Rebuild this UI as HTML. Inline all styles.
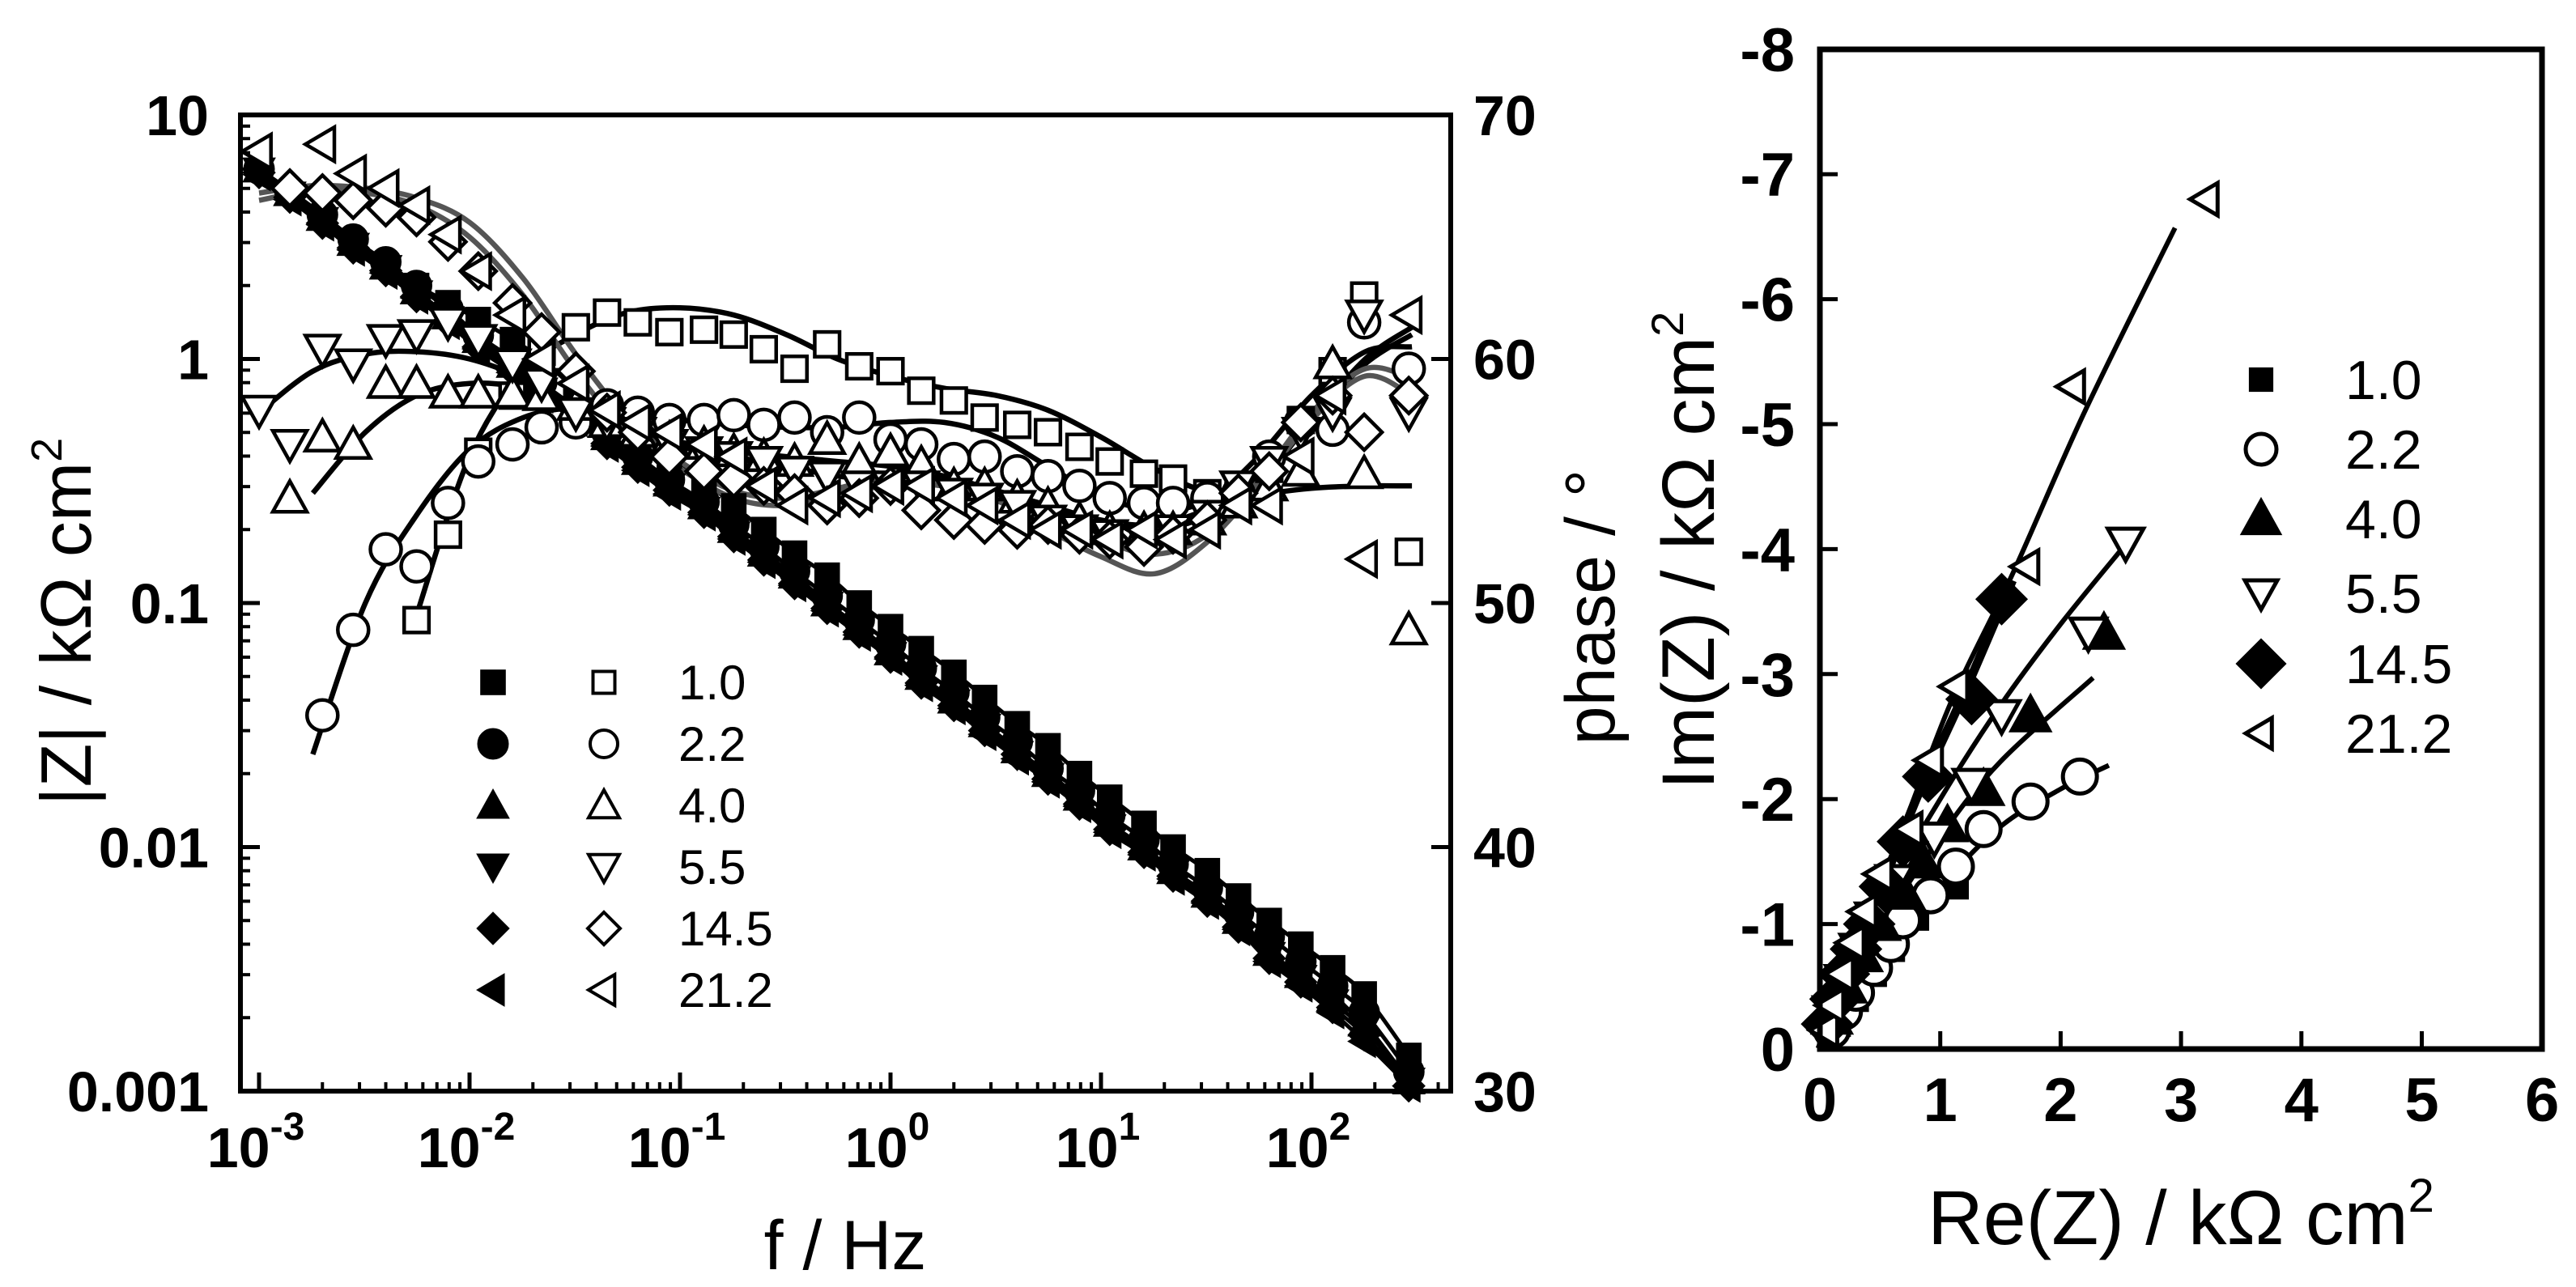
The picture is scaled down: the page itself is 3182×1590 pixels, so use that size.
<!DOCTYPE html>
<html><head><meta charset="utf-8"><title>Impedance chart</title>
<style>html,body{margin:0;padding:0;background:#fff}svg{display:block}text{font-family:"Liberation Sans",Arial,sans-serif}</style>
</head><body>
<svg id="chart" xmlns="http://www.w3.org/2000/svg" width="3182" height="1590" viewBox="0 0 3182 1590">
<rect x="0" y="0" width="3182" height="1590" fill="#fff"/>
<g id="bode"></g>
<g id="nyq"></g>
</svg>
<script>
// ---------- Bode data ----------
var freq = [0.001,0.0014,0.002,0.0028,0.004,0.0056,0.0079,0.011,0.016,0.022,0.032,0.045,0.063,0.089,0.13,0.18,0.25,0.35,0.5,0.71,1.0,1.4,2.0,2.8,4.0,5.6,7.9,11,16,22,32,45,63,89,126,178,290];
var seriesNames = ["1.0","2.2","4.0","5.5","14.5","21.2"];
var zA = [null,null,null,null,null,2.0,1.7,1.45,1.2,1.0,0.75,0.6,0.48,0.4,0.32,0.25,0.2,0.16,0.13,0.1,0.08,0.065,0.052,0.041,0.032,0.026,0.02,0.016,0.0125,0.01,0.008,0.0063,0.005,0.004,0.0032,0.0025,0.0014];
var zB = [6.0,4.9,3.9,3.1,2.5,2.0,1.6,1.25,1.0,0.8,0.63,0.5,0.4,0.32,0.26,0.21,0.17,0.135,0.107,0.085,0.068,0.054,0.043,0.034,0.027,0.021,0.017,0.0135,0.0107,0.0085,0.0068,0.0054,0.0043,0.0034,0.0027,0.0021,0.0012];
var zC = [6.0,4.8,3.8,3.0,2.4,1.9,1.5,1.2,0.95,0.76,0.6,0.48,0.38,0.31,0.25,0.2,0.16,0.13,0.1,0.08,0.063,0.05,0.04,0.032,0.025,0.02,0.016,0.0125,0.01,0.008,0.0064,0.005,0.0037,0.003,0.0024,0.0019,0.0011];
var zD = [5.9,4.7,3.7,2.9,2.35,1.85,1.45,1.15,0.92,0.74,0.58,0.46,0.37,0.3,0.24,0.19,0.155,0.125,0.098,0.078,0.061,0.049,0.039,0.031,0.024,0.0195,0.0155,0.012,0.0097,0.0078,0.0062,0.0049,0.0036,0.0029,0.0023,0.0018,0.0011];
var zE = [5.8,4.6,3.6,2.85,2.3,1.8,1.42,1.12,0.9,0.72,0.57,0.45,0.36,0.29,0.235,0.187,0.15,0.12,0.095,0.076,0.06,0.047,0.038,0.03,0.024,0.019,0.015,0.0118,0.0095,0.0076,0.006,0.0047,0.0035,0.0028,0.0022,0.0017,0.00105];
var zF = [5.7,4.5,3.55,2.8,2.25,1.78,1.4,1.1,0.88,0.7,0.56,0.44,0.35,0.28,0.23,0.183,0.147,0.118,0.093,0.074,0.059,0.046,0.037,0.029,0.023,0.0185,0.0147,0.0115,0.0093,0.0074,0.0059,0.0046,0.0034,0.0027,0.0021,0.0016,0.00105];
var pA = [null,null,null,null,null,49.3,52.8,56.2,58.5,60.3,61.3,61.9,61.5,61.1,61.2,61.0,60.4,59.6,60.6,59.7,59.5,58.7,58.3,57.6,57.3,57.0,56.4,55.8,55.3,55.1,54.5,54.4,55.5,57.5,59.5,62.6,52.1];
var pB = [null,null,45.4,48.9,52.2,51.5,54.1,55.8,56.5,57.2,57.4,58.1,57.8,57.5,57.5,57.7,57.3,57.6,57.0,57.6,56.7,56.5,55.9,56.0,55.4,55.2,54.8,54.3,54.1,54.1,54.3,54.5,56.0,57.4,57.1,61.5,59.6];
var pC = [null,54.3,56.8,56.5,59.0,59.0,58.6,58.6,58.6,58.5,58.1,57.4,57.0,56.7,56.5,56.2,56.0,55.8,56.7,55.8,56.2,55.7,54.8,54.8,54.3,54.0,53.4,53.0,53.0,53.0,53.4,54.1,54.8,55.4,59.8,55.3,48.9];
var pD = [57.9,56.5,60.4,59.8,60.8,61.0,61.5,60.8,59.8,59.0,57.8,57.4,57.0,56.5,56.2,56.0,55.8,55.4,55.2,54.8,54.8,54.8,54.5,54.3,54.0,53.4,53.0,52.8,52.6,53.0,53.6,54.8,55.8,57.0,57.8,61.8,57.8];
var pE = [null,67.0,66.8,66.5,66.2,65.8,64.8,63.6,62.3,61.1,59.5,57.8,57.0,56.0,55.4,55.1,54.8,54.5,54.0,54.3,54.8,53.8,53.4,53.2,53.0,53.2,52.8,52.6,52.3,52.8,53.4,54.5,55.4,57.4,58.5,57.0,58.5];
var pF = [68.5,null,68.8,67.6,67.0,66.3,65.1,63.6,61.8,60.0,59.0,57.9,57.4,57.0,56.5,56.0,54.8,54.0,54.3,54.5,54.8,54.8,54.3,54.0,53.4,53.0,53.0,52.6,53.0,52.6,53.0,54.0,54.0,56.0,58.5,51.8,61.8];
var fitFreq = [0.001,0.0018,0.0032,0.0056,0.01,0.018,0.032,0.056,0.1,0.18,0.32,0.56,1,1.8,3.2,5.6,10,18,32,56,100,180,300];
var fA = [null,null,null,49.5,56.0,59.5,61.0,61.9,62.1,61.8,61.0,60.0,59.3,58.8,58.5,57.9,56.8,55.5,54.6,55.0,57.5,60.0,61.3];
var fB = [null,43.8,50.0,53.6,56.3,57.6,58.0,57.8,57.5,57.3,57.2,57.2,57.4,57.4,56.8,55.6,54.4,53.8,54.2,56.0,58.5,60.3,60.5];
var fC = [null,54.5,57.0,58.5,59.0,58.8,58.0,57.2,56.6,56.2,56.0,55.8,55.6,55.2,54.6,54.0,53.4,53.2,53.8,54.4,54.7,54.8,54.8];
var fD = [57.8,59.5,60.2,60.3,60.0,59.2,58.0,57.0,56.4,56.0,55.6,55.2,55.0,54.8,54.5,53.9,53.3,53.0,53.6,55.2,57.5,59.8,61.0];
var fE = [66.5,66.9,66.8,66.3,65.0,62.6,59.5,57.0,55.5,54.3,54.0,54.5,54.8,54.8,54.2,53.0,51.9,51.2,52.5,54.8,57.5,59.3,58.5];
var fF = [66.8,67.1,67.0,66.6,65.6,63.3,60.2,57.6,55.8,54.6,54.3,54.7,55.2,55.0,54.5,53.6,52.6,52.0,52.8,55.0,57.8,59.6,59.2];
var xTickExp = [-3,-2,-1,0,1,2];
var yTickLabels = ["10","1","0.1","0.01","0.001"];
var yTickVals = [10,1,0.1,0.01,0.001];
var phaseTicks = [70,60,50,40,30];
// ---------- Nyquist data ----------
var reA = [0.15,0.3,0.45,0.6,0.8,1.13];
var imA = [-0.2,-0.4,-0.6,-0.8,-1.05,-1.3];
var reB = [0.1,0.2,0.3,0.45,0.59,0.69,0.92,1.13,1.36,1.75,2.16];
var imB = [-0.15,-0.3,-0.45,-0.65,-0.84,-1.03,-1.23,-1.46,-1.76,-1.98,-2.18];
var reC = [0.1,0.22,0.35,0.5,0.7,0.85,1.06,1.36,1.75,2.36];
var imC = [-0.25,-0.5,-0.75,-1.0,-1.25,-1.5,-1.79,-2.08,-2.67,-3.33];
var reD = [0.1,0.2,0.32,0.45,0.62,0.95,1.26,1.51,2.23,2.54];
var imD = [-0.3,-0.55,-0.8,-1.05,-1.35,-1.69,-2.12,-2.67,-3.33,-4.05];
var reE = [0.06,0.13,0.2,0.3,0.41,0.54,0.69,0.9,1.26,1.51];
var imE = [-0.2,-0.4,-0.6,-0.8,-1.0,-1.3,-1.66,-2.18,-2.8,-3.6];
var reF = [0.05,0.1,0.18,0.27,0.37,0.5,0.75,0.92,1.13,1.72,2.1,3.21];
var imF = [-0.15,-0.35,-0.6,-0.85,-1.1,-1.4,-1.76,-2.31,-2.9,-3.86,-5.3,-6.8];
var fitReB = [0.1,0.5,1,1.5,2,2.4];
var fitImB = [0,-0.75,-1.3,-1.78,-2.08,-2.27];
var fitReC = [0,0.5,1,1.5,2.27];
var fitImC = [0,-0.95,-1.7,-2.3,-2.97];
var fitReD = [0,0.5,1,1.5,2,2.55];
var fitImD = [0,-1.15,-2.0,-2.75,-3.4,-4.05];
var fitReE = [0,0.4,0.8,1.2,1.6];
var fitImE = [0,-1.0,-2.0,-2.85,-3.75];
var fitReF = [0,0.3,0.7,1.1,1.6,2.2,2.95];
var fitImF = [0,-0.85,-1.8,-2.8,-3.8,-5.1,-6.57];
var nxTicks = [0,1,2,3,4,5,6];
var nyTicks = [0,-1,-2,-3,-4,-5,-6,-7,-8];

var NS = "http://www.w3.org/2000/svg";
function mk(parent, tag, attrs) {
  var e = document.createElementNS(NS, tag);
  for (var k in attrs) e.setAttribute(k, attrs[k]);
  parent.appendChild(e);
  return e;
}
var L = {x0: 297, x1: 1792, y0: 142, y1: 1348};
function xL(f) { return 320 + (Math.log10(f) + 3) * 260; }
function yL(z) { return L.y0 + (1 - Math.log10(z)) * 301.5; }
function yP(p) { return L.y0 + (70 - p) / 40 * (L.y1 - L.y0); }
var R = {x0: 2248, x1: 3140, y0: 61, y1: 1296};
function xN(re) { return R.x0 + re * 148.7; }
function yN(im) { return R.y1 + im * 154.4; }

function smoothPath(pts) {
  if (pts.length < 2) return "";
  var d = "M" + pts[0][0].toFixed(1) + "," + pts[0][1].toFixed(1);
  for (var i = 0; i < pts.length - 1; i++) {
    var p0 = pts[i - 1] || pts[i], p1 = pts[i], p2 = pts[i + 1], p3 = pts[i + 2] || p2;
    var c1x = p1[0] + (p2[0] - p0[0]) / 6, c1y = p1[1] + (p2[1] - p0[1]) / 6;
    var c2x = p2[0] - (p3[0] - p1[0]) / 6, c2y = p2[1] - (p3[1] - p1[1]) / 6;
    d += " C" + c1x.toFixed(1) + "," + c1y.toFixed(1) + " " + c2x.toFixed(1) + "," + c2y.toFixed(1) + " " + p2[0].toFixed(1) + "," + p2[1].toFixed(1);
  }
  return d;
}
function marker(g, type, x, y, s, filled, sw) {
  var fill = filled ? "#000" : "#fff", h = s / 2, el;
  var st = {fill: fill, stroke: "#000", "stroke-width": sw, "stroke-linejoin": "miter"};
  if (type === "square") {
    st.x = x - h * 0.9; st.y = y - h * 0.9; st.width = s * 0.9; st.height = s * 0.9;
    el = mk(g, "rect", st);
  } else if (type === "circle") {
    st.cx = x; st.cy = y; st.r = h;
    el = mk(g, "circle", st);
  } else {
    var pts;
    if (type === "up") pts = [[x, y - h], [x + h, y + h * 0.8], [x - h, y + h * 0.8]];
    else if (type === "down") pts = [[x, y + h], [x + h, y - h * 0.8], [x - h, y - h * 0.8]];
    else if (type === "diamond") pts = [[x, y - h], [x + h, y], [x, y + h], [x - h, y]];
    else pts = [[x - h, y], [x + h * 0.7, y - h], [x + h * 0.7, y + h]];
    st.points = pts.map(function (p) { return p[0].toFixed(1) + "," + p[1].toFixed(1); }).join(" ");
    el = mk(g, "polygon", st);
  }
  return el;
}
function txt(g, x, y, str, size, opts) {
  var t = mk(g, "text", {x: x, y: y, "font-size": size});
  if (opts) for (var k in opts) t.setAttribute(k, opts[k]);
  t.textContent = str;
  return t;
}

var types = ["square", "circle", "up", "down", "diamond", "left"];
var zSeries = [zA, zB, zC, zD, zE, zF];
var pSeries = [pA, pB, pC, pD, pE, pF];
var fSeries = [fA, fB, fC, fD, fE, fF];
var fitColors = ["#000", "#000", "#000", "#000", "#555", "#555"];
var filledSize = [34, 38, 40, 40, 40, 40];
var openSize = [34, 38, 42, 42, 44, 42];

var bode = document.getElementById("bode");
for (var s = 0; s < 6; s++) {
  var pts = [];
  for (var i = 0; i < freq.length; i++) if (zSeries[s][i] != null) pts.push([xL(freq[i]), yL(zSeries[s][i])]);
  var ln = mk(bode, "path", {d: smoothPath(pts), fill: "none", stroke: "#000", "stroke-width": 5});
  
  
}
for (var s = 0; s < 6; s++) {
  var pts = [];
  for (var i = 0; i < fitFreq.length; i++) if (fSeries[s][i] != null) pts.push([xL(fitFreq[i]), yP(fSeries[s][i])]);
  var ln = mk(bode, "path", {d: smoothPath(pts), fill: "none", stroke: fitColors[s], "stroke-width": 6.5});
  
  
}
for (var s = 5; s >= 0; s--) {
  var g = mk(bode, "g", {});
  
  
  for (var i = 0; i < freq.length; i++) {
    if (zSeries[s][i] == null) continue;
    var m = marker(g, types[s], xL(freq[i]), yL(zSeries[s][i]), filledSize[s], true, 1);
    
    
  }
}
for (var s = 0; s < 6; s++) {
  var g = mk(bode, "g", {});
  
  
  for (var i = 0; i < freq.length; i++) {
    if (pSeries[s][i] == null) continue;
    var m = marker(g, types[s], xL(freq[i]), yP(pSeries[s][i]), openSize[s], false, 4.5);
    
    
  }
}
var fr = mk(bode, "rect", {x: L.x0, y: L.y0, width: L.x1 - L.x0, height: L.y1 - L.y0, fill: "none", stroke: "#000", "stroke-width": 6});


for (var i = 0; i < yTickVals.length; i++) {
  var yv = yL(yTickVals[i]);
  mk(bode, "line", {x1: L.x0, x2: L.x0 + 24, y1: yv, y2: yv, stroke: "#000", "stroke-width": 5});
  if (i < yTickVals.length - 1) {
    for (var k = 2; k <= 9; k++) {
      var ym = yL(yTickVals[i + 1] * k);
      mk(bode, "line", {x1: L.x0, x2: L.x0 + 12, y1: ym, y2: ym, stroke: "#000", "stroke-width": 4});
    }
  }
  var t = txt(bode, 258, yv + 25, yTickLabels[i], 70, {"font-weight": "bold", "text-anchor": "end"});
  
  
}
for (var i = 0; i < xTickExp.length; i++) {
  var xv = xL(Math.pow(10, xTickExp[i]));
  mk(bode, "line", {x1: xv, x2: xv, y1: L.y1, y2: L.y1 - 23, stroke: "#000", "stroke-width": 5});
  for (var k = 2; k <= 9; k++) {
    var xm = xL(Math.pow(10, xTickExp[i]) * k);
    if (xm < L.x1) mk(bode, "line", {x1: xm, x2: xm, y1: L.y1, y2: L.y1 - 11, stroke: "#000", "stroke-width": 4});
  }
  var t = mk(bode, "text", {x: xv - 4, y: 1442, "font-size": 70, "font-weight": "bold", "text-anchor": "middle"});
  
  
  var t1 = document.createElementNS(NS, "tspan"); t1.textContent = "10"; t.appendChild(t1);
  var t2 = document.createElementNS(NS, "tspan"); t2.setAttribute("dy", "-34"); t2.setAttribute("font-size", "48"); t2.textContent = String(xTickExp[i]); t.appendChild(t2);
}
for (var i = 0; i < phaseTicks.length; i++) {
  var yv = yP(phaseTicks[i]);
  if (i > 0 && i < phaseTicks.length - 1) mk(bode, "line", {x1: L.x1, x2: L.x1 - 24, y1: yv, y2: yv, stroke: "#000", "stroke-width": 5});
  var t = txt(bode, 1820, yv + 25, String(phaseTicks[i]), 70, {"font-weight": "bold"});
  
  
}
var t = mk(bode, "text", {x: 0, y: 0, "font-size": 88, "text-anchor": "middle", transform: "translate(112,768) rotate(-90)"});


t.innerHTML = '|Z| / kΩ cm<tspan dy="-36" font-size="54">2</tspan>';
var t = txt(bode, 1044, 1568, "f / Hz", 86, {"text-anchor": "middle"});


var t = txt(bode, 0, 0, "phase / °", 86, {"text-anchor": "middle", transform: "translate(1994,750) rotate(-90)"});


for (var s = 0; s < 6; s++) {
  var ly = 843 + s * 76;
  var lg = mk(bode, "g", {});
  
  
  marker(lg, types[s], 609, ly, filledSize[s], true, 1);
  marker(lg, types[s], 746, ly, openSize[s] - 4, false, 4);
  txt(lg, 838, ly + 21, seriesNames[s], 60);
}

// ---------- Nyquist plot ----------
var nyq = document.getElementById("nyq");
var reS = [reA, reB, reC, reD, reE, reF];
var imS = [imA, imB, imC, imD, imE, imF];
var fitRe = [fitReB, fitReC, fitReD, fitReE, fitReF];
var fitIm = [fitImB, fitImC, fitImD, fitImE, fitImF];
var fitNames = ["2.2", "4.0", "5.5", "14.5", "21.2"];
var nyFilled = [true, false, true, false, true, false];
for (var s = 0; s < fitRe.length; s++) {
  var pts = [];
  for (var i = 0; i < fitRe[s].length; i++) pts.push([xN(fitRe[s][i]), yN(fitIm[s][i])]);
  var ln = mk(nyq, "path", {d: smoothPath(pts), fill: "none", stroke: "#000", "stroke-width": fitNames[s] === "14.5" ? 11 : 6});
  
  
}
var nySize = [30, 42, 46, 44, 58, 40];
for (var s = 0; s < 6; s++) {
  var g = mk(nyq, "g", {});
  
  
  for (var i = 0; i < reS[s].length; i++) {
    var m = marker(g, types[s], xN(reS[s][i]), yN(imS[s][i]), nySize[s], nyFilled[s], 5);
    
    
  }
}
var fr = mk(nyq, "rect", {x: R.x0, y: R.y0, width: R.x1 - R.x0, height: R.y1 - R.y0, fill: "none", stroke: "#000", "stroke-width": 7});


for (var i = 0; i < nxTicks.length; i++) {
  var xv = xN(nxTicks[i]);
  if (i > 0 && i < nxTicks.length - 1) mk(nyq, "line", {x1: xv, x2: xv, y1: R.y1, y2: R.y1 - 22, stroke: "#000", "stroke-width": 5});
  var t = txt(nyq, xv, 1385, String(nxTicks[i]), 76, {"font-weight": "bold", "text-anchor": "middle"});
  
  
}
for (var i = 0; i < nyTicks.length; i++) {
  var yv = yN(nyTicks[i]);
  if (i > 0 && i < nyTicks.length - 1) mk(nyq, "line", {x1: R.x0, x2: R.x0 + 22, y1: yv, y2: yv, stroke: "#000", "stroke-width": 5});
  var t = txt(nyq, 2217, yv + 27, String(nyTicks[i]), 76, {"font-weight": "bold", "text-anchor": "end"});
  
  
}
var t = mk(nyq, "text", {x: 2694, y: 1537, "font-size": 95, "text-anchor": "middle"});


t.innerHTML = 'Re(Z) / kΩ cm<tspan dy="-40" font-size="58">2</tspan>';
var t = mk(nyq, "text", {x: 0, y: 0, "font-size": 92, "text-anchor": "middle", transform: "translate(2117,680) rotate(-90)"});


t.innerHTML = 'Im(Z) / kΩ cm<tspan dy="-38" font-size="56">2</tspan>';
var legY = [469, 555, 641, 733, 820, 906];
var legSize = [28, 38, 44, 40, 56, 38];
for (var s = 0; s < 6; s++) {
  var lg = mk(nyq, "g", {});
  
  
  marker(lg, types[s], 2793, legY[s], legSize[s], nyFilled[s], 5);
  txt(lg, 2897, legY[s] + 24, seriesNames[s], 68);
}
</script>
</body></html>
